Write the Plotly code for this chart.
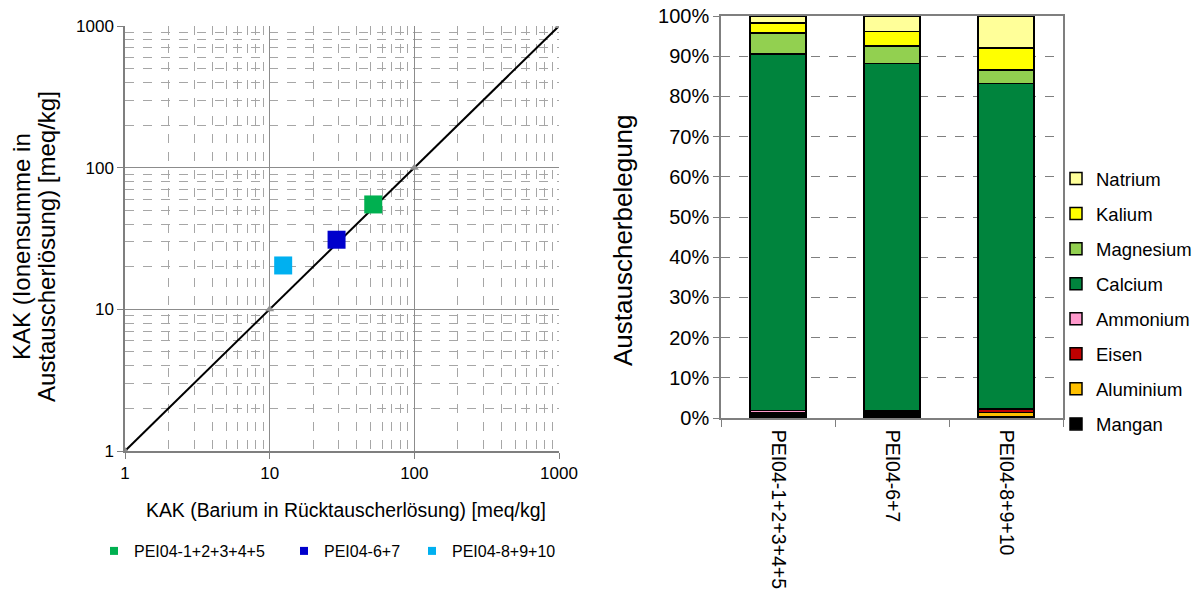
import plotly.graph_objects as go

# --- Left panel: CEC comparison (log-log) ---
sample_names = ["PEI04-1+2+3+4+5", "PEI04-6+7", "PEI04-8+9+10"]
kak_barium = [52, 29, 12.4]        # KAK from barium in back-exchange solution
kak_ionsum = [55, 31, 20.4]        # KAK from ion sum in exchange solution
sample_colors = ["#00B050", "#0000CC", "#00B0F0"]
ref_line = [1, 10, 100, 1000]      # 1:1 reference line
decade_ticks = [1, 10, 100, 1000]
minor_ticks = [m * d for d in (1, 10, 100) for m in range(2, 10)]

# --- Right panel: exchanger occupation ---
categories = ["PEI04-1+2+3+4+5", "PEI04-6+7", "PEI04-8+9+10"]
ions = ["Mangan", "Aluminium", "Eisen", "Ammonium", "Calcium", "Magnesium", "Kalium", "Natrium"]
shares = {
    "Mangan":    [1.0, 1.0, 0.4],
    "Aluminium": [0.1, 0.1, 1.0],
    "Eisen":     [0.1, 0.1, 0.7],
    "Ammonium":  [0.7, 0.5, 0.2],
    "Calcium":   [88.6, 86.5, 80.9],
    "Magnesium": [5.3, 4.3, 3.4],
    "Kalium":    [2.4, 3.6, 5.4],
    "Natrium":   [1.8, 3.9, 8.0],
}
ion_colors = {
    "Mangan": "#000000", "Aluminium": "#FFC000", "Eisen": "#C00000", "Ammonium": "#FF99CC",
    "Calcium": "#00843D", "Magnesium": "#92D050", "Kalium": "#FFFF00", "Natrium": "#FFFF99",
}
pct_ticks = list(range(0, 101, 10))
pct_labels = [f"{v}%" for v in pct_ticks]

FONT = "Liberation Sans, Arial, sans-serif"
W, H = 1200, 604
fig = go.Figure()

# 1:1 line
fig.add_trace(go.Scatter(
    x=ref_line, y=ref_line, mode="lines+markers",
    line=dict(color="black", width=2),
    marker=dict(symbol="triangle-up", size=8, color="#909090"),
    showlegend=False, hoverinfo="skip", xaxis="x", yaxis="y",
))

# sample points, each with its own small legend key below the panel
legend_names = ["legend", "legend3", "legend4"]
legend_x_px = [94, 284, 412]
for name, bx, iy, col, lg in zip(sample_names, kak_barium, kak_ionsum, sample_colors, legend_names):
    fig.add_trace(go.Scatter(
        x=[bx], y=[iy], mode="markers",
        marker=dict(symbol="square", size=18, color=col),
        showlegend=False, xaxis="x", yaxis="y",
    ))
    fig.add_trace(go.Scatter(
        x=[None], y=[None], mode="markers", name=name,
        marker=dict(symbol="square", size=8, color=col),
        legend=lg, xaxis="x", yaxis="y",
    ))

# stacked bars (stacked bottom-up, listed top-down in the legend)
for i, ion in enumerate(ions):
    fig.add_trace(go.Bar(
        x=categories, y=shares[ion], name=ion,
        marker=dict(color=ion_colors[ion], line=dict(color="black", width=1.5)),
        legend="legend2", legendgroup=ion, legendrank=len(ions) - i,
        xaxis="x2", yaxis="y2",
    ))

grid_major = "#8C8C8C"
grid_minor = "#A6A6A6"
axis_gray = "#7F7F7F"

log_axis = dict(
    type="log", range=[0, 3],
    tickvals=decade_ticks, ticktext=[str(v) for v in decade_ticks],
    showgrid=True, gridcolor=grid_major, gridwidth=1,
    showline=True, linecolor=axis_gray, linewidth=1.5,
    ticks="outside", ticklen=6, tickcolor=axis_gray,
    minor=dict(tickvals=minor_ticks, showgrid=True, gridcolor=grid_minor,
               griddash="dash", gridwidth=1, ticks=""),
    zeroline=False, tickfont=dict(size=17), automargin=False,
)

legend_common = dict(
    orientation="h", y=1 - 551 / H, xanchor="left", yanchor="middle",
    font=dict(size=16), itemwidth=30, bgcolor="rgba(0,0,0,0)",
)

fig.update_layout(
    width=W, height=H,
    margin=dict(l=0, r=0, t=0, b=0, autoexpand=False),
    paper_bgcolor="white", plot_bgcolor="white",
    font=dict(family=FONT, size=16, color="#000000"),
    barmode="stack", bargap=0.51,
    xaxis=dict(log_axis, domain=[125 / W, 559 / W], anchor="y"),
    yaxis=dict(log_axis, domain=[1 - 451 / H, 1 - 26 / H], anchor="x"),
    xaxis2=dict(
        type="category", domain=[721 / W, 1063 / W], anchor="y2",
        showline=True, linecolor=axis_gray, linewidth=1.5, mirror=True,
        ticks="outside", ticklen=7, tickcolor=axis_gray, tickson="boundaries",
        ticklabelstandoff=6,
        tickangle=90, showgrid=False, tickfont=dict(size=19.5), automargin=False,
    ),
    yaxis2=dict(
        range=[0, 100], domain=[1 - 418 / H, 1 - 16 / H], anchor="x2",
        tickvals=pct_ticks, ticktext=pct_labels,
        showgrid=True, gridcolor=axis_gray, griddash="dash", gridwidth=1.2,
        showline=True, linecolor=axis_gray, linewidth=1.5, mirror=True,
        ticks="outside", ticklen=6, tickcolor=axis_gray,
        zeroline=False, tickfont=dict(size=20), automargin=False,
    ),
    legend=dict(legend_common, x=legend_x_px[0] / W),
    legend3=dict(legend_common, x=legend_x_px[1] / W),
    legend4=dict(legend_common, x=legend_x_px[2] / W),
    legend2=dict(
        x=1056 / W, y=1 - 301.5 / H, xanchor="left", yanchor="middle",
        traceorder="grouped", tracegroupgap=8, font=dict(size=18.5),
        itemwidth=30, bgcolor="rgba(0,0,0,0)",
    ),
    annotations=[
        dict(text="KAK (Barium in Rücktauscherlösung) [meq/kg]", x=346 / W, y=1 - 510 / H,
             xanchor="center", yanchor="middle",
             xref="paper", yref="paper", showarrow=False, font=dict(size=19.4)),
        dict(text="KAK (Ionensumme in", x=22 / W, y=1 - 247 / H,
             xanchor="center", yanchor="middle",
             xref="paper", yref="paper", showarrow=False, textangle=-90, font=dict(size=24)),
        dict(text="Austauscherlösung) [meq/kg]", x=47 / W, y=1 - 247 / H,
             xanchor="center", yanchor="middle",
             xref="paper", yref="paper", showarrow=False, textangle=-90, font=dict(size=24)),
        dict(text="Austauscherbelegung", x=623 / W, y=1 - 240 / H,
             xanchor="center", yanchor="middle",
             xref="paper", yref="paper", showarrow=False, textangle=-90, font=dict(size=26)),
    ],
)

fig.write_html("out.html")
